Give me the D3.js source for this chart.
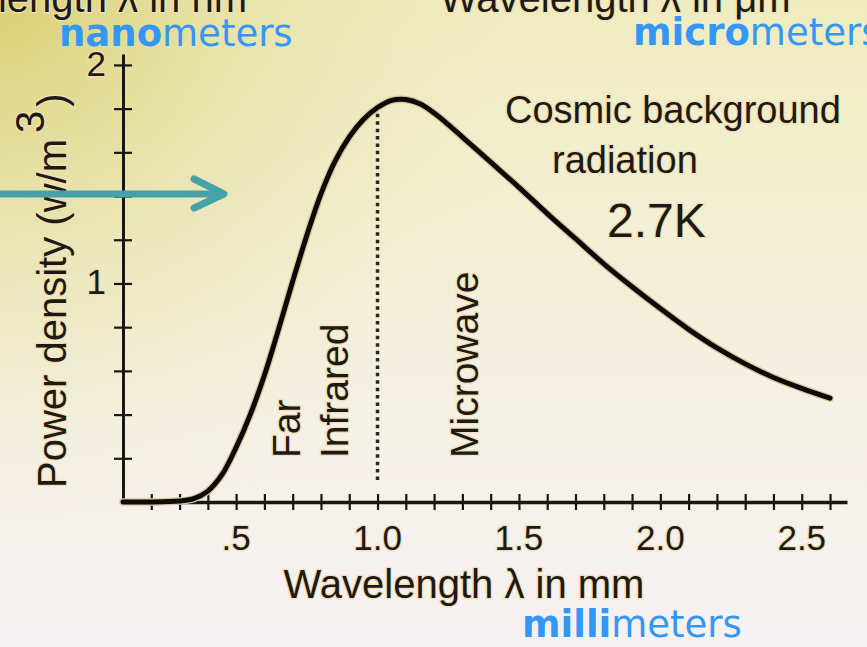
<!DOCTYPE html>
<html lang="en">
<head>
<meta charset="utf-8">
<script src="https://cdn.jsdelivr.net/npm/d3@7/dist/d3.min.js"></script>
<style>
body { margin:0; padding:0; overflow:hidden; }
svg { display:block; }
text.ink {
	font-family: "Liberation Sans", Arial, sans-serif;
	fill: #1d1a15;
	stroke: #f2dfb6;
	stroke-width: 2.5;
	paint-order: stroke;
}
text.blue {
	font-family: "DejaVu Sans", Verdana, sans-serif;
	font-size: 37px;
	fill: #3597f5;
}
.axis path, .axis line { stroke: #1a1712; }
</style>
</head>
<body>
<svg id="chart"></svg>
<script>

var w = 867, h = 647;

// wavelength (mm) and power density (w/m^3)
var lambda = [0.10, 0.20, 0.30, 0.35, 0.40, 0.45, 0.50, 0.55, 0.60, 0.65, 0.70, 0.75, 0.80, 0.85,
              0.90, 0.95, 1.00, 1.05, 1.10, 1.15, 1.20, 1.25, 1.30, 1.40, 1.50, 1.60, 1.70, 1.80,
              1.90, 2.00, 2.10, 2.20, 2.30, 2.40, 2.50, 2.60];
var power  = [0, 0, 0.005, 0.015, 0.05, 0.125, 0.25, 0.40, 0.58, 0.79, 1.01, 1.22, 1.41, 1.56,
              1.67, 1.75, 1.805, 1.838, 1.842, 1.822, 1.78, 1.727, 1.67, 1.555, 1.44, 1.32, 1.205, 1.09,
              0.985, 0.885, 0.79, 0.705, 0.632, 0.57, 0.52, 0.475];

var xTicks = [0.2, 0.3, 0.4, 0.5, 0.6, 0.7, 0.8, 0.9, 1.0, 1.1, 1.2, 1.3, 1.4, 1.5, 1.6, 1.7,
              1.8, 1.9, 2.0, 2.1, 2.2, 2.3, 2.4, 2.5, 2.6];
var xLabelVals = [0.5, 1.0, 1.5, 2.0, 2.5];
var xLabels = [".5", "1.0", "1.5", "2.0", "2.5"];
var yTicks = [0.2, 0.4, 0.6, 0.8, 1.0, 1.2, 1.4, 1.6, 1.8, 2.0];
var yLabelVals = [1, 2];
var yLabels = ["1", "2"];

var peakLambda = 1.0, peakSpan = [0.09, 1.81];   // dotted marker at the peak

var svg = d3.select('#chart').attr('width', w).attr('height', h);
var defs = svg.append('defs');

// background: yellow corner fading to pinkish white
var lg = defs.append('linearGradient').attr('id', 'bgv')
	.attr('x1', 0).attr('y1', 0).attr('x2', 0).attr('y2', 1);
[[0, '#efecbf'], [0.35, '#f2efd4'], [0.7, '#f5f1e9'], [1, '#f6f1f2']].forEach(function(s){
	lg.append('stop').attr('offset', s[0]).attr('stop-color', s[1]);
});
var rg = defs.append('radialGradient').attr('id', 'bgr')
	.attr('gradientUnits', 'userSpaceOnUse').attr('cx', 0).attr('cy', 0).attr('r', 540);
[[0, '#d6cb66', 0.85], [0.5, '#e3dc96', 0.45], [1, '#efeac0', 0]].forEach(function(s){
	rg.append('stop').attr('offset', s[0]).attr('stop-color', s[1]).attr('stop-opacity', s[2]);
});
svg.append('rect').attr('width', w).attr('height', h).attr('fill', 'url(#bgv)');
svg.append('rect').attr('width', w).attr('height', h).attr('fill', 'url(#bgr)');

var x = d3.scaleLinear().domain([0.1, 2.66]).range([123, 847]);
var y = d3.scaleLinear().domain([0, 2.05]).range([502, 54]);

// x axis with ticks crossing the line
var gx = svg.append('g').attr('class', 'axis').attr('transform', 'translate(0,' + y(0) + ')')
	.call(d3.axisBottom(x).tickValues(xTicks).tickSizeOuter(0).tickFormat(''));
gx.select('.domain').attr('stroke-width', 3.5);
gx.selectAll('.tick line').attr('y1', -8).attr('y2', 8).attr('stroke-width', 2.2);
gx.selectAll('.tick text').remove();

var gy = svg.append('g').attr('class', 'axis').attr('transform', 'translate(' + x(0.1) + ',0)')
	.call(d3.axisLeft(y).tickValues(yTicks).tickSizeOuter(0).tickFormat(''));
gy.select('.domain').attr('stroke-width', 3);
gy.selectAll('.tick line').attr('x1', -9).attr('x2', 9).attr('stroke-width', 2.2);
gy.selectAll('.tick text').remove();

svg.selectAll('text.xlab').data(xLabelVals).enter().append('text')
	.attr('class', 'ink xlab')
	.attr('x', function(d){ return x(d); })
	.attr('y', 550)
	.attr('text-anchor', 'middle')
	.style('font-size', '35px')
	.text(function(d, i){ return xLabels[i]; });

svg.selectAll('text.ylab').data(yLabelVals).enter().append('text')
	.attr('class', 'ink ylab')
	.attr('x', 106)
	.attr('y', function(d){ return y(d) + 11; })
	.attr('text-anchor', 'end')
	.style('font-size', '35px')
	.text(function(d, i){ return yLabels[i]; });

// axis titles
svg.append('text').attr('class', 'ink')
	.attr('x', 464).attr('y', 598).attr('text-anchor', 'middle')
	.style('font-size', '40px')
	.text('Wavelength \u03bb in mm');

var yt = svg.append('text').attr('class', 'ink')
	.attr('transform', 'translate(66,488) rotate(-90)')
	.style('font-size', '40px')
	.text('Power density (w/m');
yt.append('tspan').attr('dx', 6).attr('dy', -22).text('3');
yt.append('tspan').attr('dx', 4).attr('dy', 22).text(')');

// dotted line at the peak
svg.append('line')
	.attr('x1', x(peakLambda)).attr('x2', x(peakLambda))
	.attr('y1', y(peakSpan[1])).attr('y2', y(peakSpan[0]))
	.attr('stroke', '#2a2620').attr('stroke-width', 3.5)
	.attr('stroke-dasharray', '3.5,3.9');

// the curve
var line = d3.line()
	.x(function(d, i){ return x(lambda[i]); })
	.y(function(d){ return y(d); })
	.curve(d3.curveCatmullRom.alpha(0.5));
svg.append('path').datum(power)
	.attr('d', line)
	.attr('fill', 'none')
	.attr('stroke', '#d8c89c')
	.attr('stroke-width', 7.5)
	.attr('stroke-linecap', 'round');
svg.append('path').datum(power)
	.attr('d', line)
	.attr('fill', 'none')
	.attr('stroke', '#0b0a08')
	.attr('stroke-width', 5)
	.attr('stroke-linecap', 'round');

// band labels, rotated
function vlabel(tx, ty, s) {
	svg.append('text').attr('class', 'ink')
		.attr('transform', 'translate(' + tx + ',' + ty + ') rotate(-90)')
		.style('font-size', '39px')
		.text(s);
}
vlabel(300, 458, 'Far');
vlabel(348, 458, 'Infrared');
vlabel(478, 458, 'Microwave');

svg.append('text').attr('class', 'ink').attr('x', 505).attr('y', 123)
	.style('font-size', '38px').text('Cosmic background');
svg.append('text').attr('class', 'ink').attr('x', 552).attr('y', 173)
	.style('font-size', '38px').text('radiation');
svg.append('text').attr('class', 'ink').attr('x', 607).attr('y', 237)
	.style('font-size', '48px').text('2.7K');

// cut-off titles of neighbouring plots
svg.append('text').attr('class', 'ink').attr('x', 247).attr('y', 12)
	.attr('text-anchor', 'end').style('font-size', '40px').text('Wavelength \u03bb in nm');
svg.append('text').attr('class', 'ink').attr('x', 440).attr('y', 12)
	.style('font-size', '40px').text('Wavelength \u03bb in \u03bcm');

// blue unit notes
function unit(tx, ty, pre) {
	var t = svg.append('text').attr('class', 'blue').attr('x', tx).attr('y', ty);
	t.append('tspan').style('font-weight', 'bold').text(pre);
	t.append('tspan').text('meters');
}
unit(59, 46, 'nano');
unit(633, 45, 'micro');
unit(522, 637, 'milli');

// teal arrow
var arrow = svg.append('g').attr('stroke', '#47a1a9').attr('stroke-width', 7)
	.attr('fill', 'none').attr('stroke-linecap', 'round').attr('stroke-linejoin', 'round');
arrow.append('line').attr('x1', -5).attr('x2', 222).attr('y1', 194).attr('y2', 194).attr('stroke-linecap', 'butt');
arrow.append('path').attr('d', 'M194,179 L224,194 L194,208');

</script>
</body>
</html>
